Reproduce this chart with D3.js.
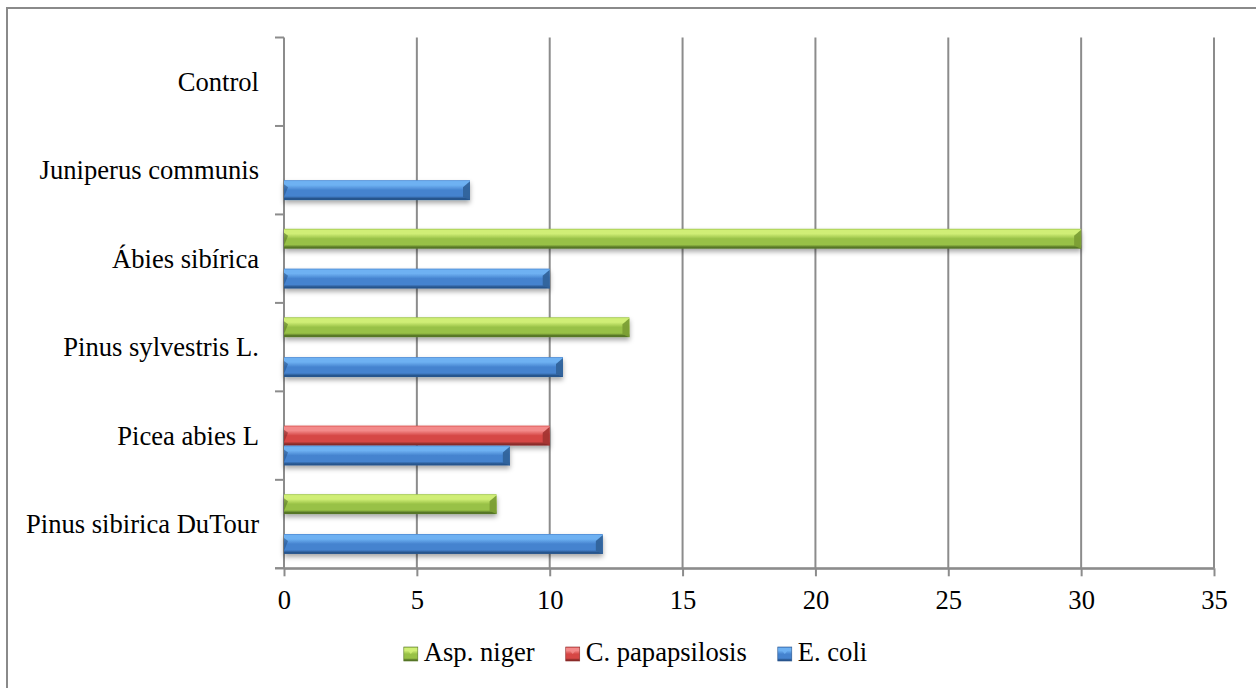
<!DOCTYPE html>
<html>
<head>
<meta charset="utf-8">
<script src="https://cdn.jsdelivr.net/npm/d3@7"></script>
<style>
  body { margin: 0; background: #fff; }
  svg { display: block; }
  svg text { font-family: "Liberation Serif", "Times New Roman", Times, serif !important; fill: #000; }
</style>
</head>
<body>
<svg id="chart" width="1256" height="688"></svg>
<script>
// ---- data ----
const categories = ["Control", "Juniperus communis", "Ábies sibírica", "Pinus sylvestris L.", "Picea abies L", "Pinus sibirica DuTour"];
const seriesNames = ["Asp. niger", "C. papapsilosis", "E. coli"];
const aspNiger      = [0, 0, 30, 13, 0, 8];
const cPapapsilosis = [0, 0, 0, 0, 10, 0];
const eColi         = [0, 7, 10, 10.5, 8.5, 12];
const xTicks = [0, 5, 10, 15, 20, 25, 30, 35];

const seriesValues = { "Asp. niger": aspNiger, "C. papapsilosis": cPapapsilosis, "E. coli": eColi };
const palette = {
  "Asp. niger":      { light: "#d0ee76", mid: "#98c146", dark: "#567626", bevel: "#7b9e35" },
  "C. papapsilosis": { light: "#f38a8a", mid: "#d64745", dark: "#8a2b29", bevel: "#a43432" },
  "E. coli":         { light: "#6eb1f2", mid: "#4583cf", dark: "#28558d", bevel: "#31639b" }
};
const FONT = '"Liberation Serif", "Times New Roman", Times, serif';
const FS = 26.6;

const svg = d3.select("#chart");
const W = 1256, H = 688;
const plot = { left: 284, right: 1214, top: 37.5, bottom: 568.3 };

// chart border (only top/left visible in the frame)
svg.append("rect").attr("x", 7).attr("y", 8).attr("width", W + 10).attr("height", H + 10)
  .attr("fill", "#fff").attr("stroke", "#8a8a8a").attr("stroke-width", 2);

const defs = svg.append("defs");
seriesNames.forEach((s, i) => {
  const c = palette[s];
  const g = defs.append("linearGradient").attr("id", "grad" + i)
    .attr("x1", 0).attr("y1", 0).attr("x2", 0).attr("y2", 1);
  [[0, c.mid], [0.07, c.light], [0.25, c.light], [0.5, c.mid], [0.8, c.mid], [0.92, c.dark], [1, c.dark]]
    .forEach(([o, col]) => g.append("stop").attr("offset", o).attr("stop-color", col));
});
const f = defs.append("filter").attr("id", "shadow").attr("x", "-5%").attr("y", "-30%").attr("width", "110%").attr("height", "190%");
f.append("feDropShadow").attr("dx", 0).attr("dy", 3).attr("stdDeviation", 2.5)
  .attr("flood-color", "#000").attr("flood-opacity", 0.35);

const x = d3.scaleLinear().domain([0, 35]).range([plot.left, plot.right]);
const y = d3.scaleBand().domain(categories).range([plot.top, plot.bottom]).padding(0);
const inner = d3.scaleBand().domain(seriesNames).range([0, y.bandwidth()]).paddingOuter(0.72).paddingInner(0);

// gridlines
svg.append("g").selectAll("line").data(xTicks.filter(t => t > 0)).join("line")
  .attr("x1", d => x(d)).attr("x2", d => x(d))
  .attr("y1", plot.top).attr("y2", plot.bottom)
  .attr("stroke", "#8c8c8c").attr("stroke-width", 2);

// x axis
const xAxis = svg.append("g").attr("transform", `translate(0,${plot.bottom})`)
  .call(d3.axisBottom(x).tickValues(xTicks).tickSize(8).tickPadding(14).tickSizeOuter(0));
xAxis.attr("font-family", null);
xAxis.select(".domain").attr("stroke", "#8c8c8c").attr("stroke-width", 2);
xAxis.selectAll(".tick line").attr("stroke", "#8c8c8c").attr("stroke-width", 2);
xAxis.selectAll(".tick text").attr("font-size", FS).style("font-family", FONT).attr("fill", "#000");

// y axis
const yBoundaries = categories.map(c => y(c)).concat([plot.bottom]);
svg.append("line").attr("x1", plot.left).attr("x2", plot.left).attr("y1", plot.top).attr("y2", plot.bottom)
  .attr("stroke", "#8c8c8c").attr("stroke-width", 2);
svg.append("g").selectAll("line").data(yBoundaries).join("line")
  .attr("x1", plot.left - 9).attr("x2", plot.left).attr("y1", d => d).attr("y2", d => d)
  .attr("stroke", "#8c8c8c").attr("stroke-width", 2);
svg.append("line").attr("x1", plot.left - 9).attr("x2", plot.right).attr("y1", plot.bottom).attr("y2", plot.bottom)
  .attr("stroke", "#8c8c8c").attr("stroke-width", 2);

svg.append("g").selectAll("text").data(categories).join("text")
  .attr("x", 259).attr("y", d => y(d) + y.bandwidth() / 2 + 9)
  .attr("text-anchor", "end").attr("font-size", FS).style("font-family", FONT).text(d => d);

// bars
const barData = [];
categories.forEach((c, ci) => seriesNames.forEach((s, si) => {
  const v = seriesValues[s][ci];
  if (v > 0) barData.push({ c, s, si, v });
}));
const bars = svg.append("g").selectAll("g").data(barData).join("g").attr("filter", "url(#shadow)");
bars.append("rect")
  .attr("x", x(0)).attr("y", d => y(d.c) + inner(d.s))
  .attr("width", d => x(d.v) - x(0)).attr("height", inner.bandwidth())
  .attr("fill", d => `url(#grad${d.si})`);
// right bevel
bars.append("path").attr("d", d => {
  const x1 = x(d.v), y0 = y(d.c) + inner(d.s), h = inner.bandwidth(), b = 7;
  return `M${x1 - b},${y0 + b}L${x1},${y0 + 1}L${x1},${y0 + h}L${x1 - b},${y0 + h - 3}Z`;
}).attr("fill", d => palette[d.s].bevel).attr("opacity", 0.95);
bars.append("path").attr("d", d => {
  const x0 = x(0), y0 = y(d.c) + inner(d.s), h = inner.bandwidth(), b = 4;
  return `M${x0},${y0 + 4}L${x0 + b},${y0 + b + 3}L${x0},${y0 + h - 3}Z`;
}).attr("fill", d => palette[d.s].dark).attr("opacity", 0.6);

// legend
const legend = svg.append("g");
const items = legend.selectAll("g").data(seriesNames).join("g");
items.append("rect").attr("width", 14).attr("height", 14).attr("y", -14)
  .attr("fill", (d, i) => `url(#grad${i})`).attr("stroke", d => palette[d].dark).attr("stroke-width", 0.6);
items.append("path").attr("d", "M2,-13L7,-7L12,-13Z").attr("fill", d => palette[d].light).attr("opacity", 0.85);
items.append("text").attr("x", 20).attr("y", 0).attr("font-size", FS).style("font-family", FONT).text(d => d);
let cursor = 0;
const widths = [];
items.each(function() { widths.push(this.getBBox().width); });
items.attr("transform", (d, i) => {
  const t = `translate(${cursor},661)`;
  cursor += widths[i] + 31;
  return t;
});
const total = cursor - 31;
legend.attr("transform", `translate(${635.5 - total / 2},0)`);
</script>
</body>
</html>
